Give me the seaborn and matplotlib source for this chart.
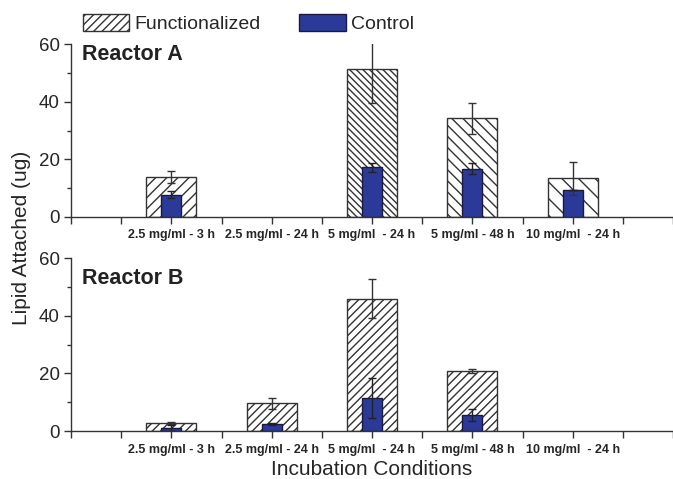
import numpy as np
import pandas as pd
import seaborn as sns
import matplotlib.pyplot as plt
from matplotlib.patches import Patch
from matplotlib.ticker import MultipleLocator

sns.set_style("ticks")
plt.rcParams['font.family'] = ['Liberation Sans', 'DejaVu Sans']
plt.rcParams['hatch.linewidth'] = 1.0

conditions = ["2.5 mg/ml - 3 h", "2.5 mg/ml - 24 h", "5 mg/ml  - 24 h",
              "5 mg/ml - 48 h", "10 mg/ml  - 24 h"]

# Reactor A
a_func = [13.9, np.nan, 51.4, 34.2, 13.4]
a_func_err = [2.2, np.nan, 12.0, 5.5, 5.8]
a_ctrl = [7.8, np.nan, 17.2, 16.8, 9.2]
a_ctrl_err = [1.2, np.nan, 1.5, 2.0, 0.0]
a_hatch = ['///', '', '\\\\\\\\\\', '\\\\\\', '\\\\']

# Reactor B
b_func = [2.9, 9.6, 45.9, 20.9, np.nan]
b_func_err = [0.3, 2.0, 6.8, 0.6, np.nan]
b_ctrl = [1.2, 2.4, 11.5, 5.7, np.nan]
b_ctrl_err = [1.0, 0.4, 7.0, 2.1, np.nan]
b_hatch = ['////', '////', '////', '////', '']

blue = '#2b3a98'
edge = '#333333'

fig = plt.figure(figsize=(6.73, 4.79), dpi=100)
ax_a = fig.add_axes([0.1055, 0.547, 0.8945, 0.361])
ax_b = fig.add_axes([0.1055, 0.100, 0.8945, 0.361])


def draw(ax, func, func_err, ctrl, ctrl_err, hatches, title, ty):
    df = pd.DataFrame({'cond': conditions, 'func': func, 'ctrl': ctrl})
    sns.barplot(data=df, x='cond', y='func', order=conditions, width=0.5,
                color='white', saturation=1, edgecolor=edge, linewidth=1,
                errorbar=None, ax=ax)
    # NaN bars are skipped, so match hatches by bar position
    for p in ax.patches:
        i = int(round(p.get_x() + p.get_width() / 2))
        p.set_hatch(hatches[i])
    sns.barplot(data=df, x='cond', y='ctrl', order=conditions, width=0.2,
                color=blue, saturation=1, edgecolor='#1a1a40', linewidth=1,
                errorbar=None, ax=ax)
    pos = np.arange(len(conditions))
    ax.errorbar(pos, func, yerr=func_err, fmt='none', ecolor=edge,
                elinewidth=1, capsize=3, capthick=1)
    ax.errorbar(pos, ctrl, yerr=ctrl_err, fmt='none', ecolor='#222222',
                elinewidth=1, capsize=3, capthick=1)
    ax.set_xlim(-1, 5)
    ax.set_ylim(0, 60)
    ax.yaxis.set_major_locator(MultipleLocator(20))
    ax.yaxis.set_minor_locator(MultipleLocator(10))
    ax.xaxis.set_minor_locator(MultipleLocator(0.5))
    ax.set_xticks(pos)
    ax.set_xticklabels(conditions, fontsize=9, fontweight='bold')
    ax.tick_params(axis='x', which='both', length=5, width=1, pad=4,
                   direction='out', color=edge)
    ax.tick_params(axis='y', which='major', length=5, width=1, pad=3,
                   labelsize=13.5, color=edge)
    ax.tick_params(axis='y', which='minor', length=3, width=1, color=edge)
    for s in ['top', 'right']:
        ax.spines[s].set_visible(False)
    for s in ['left', 'bottom']:
        ax.spines[s].set_color(edge)
        ax.spines[s].set_linewidth(1)
    ax.set_ylabel('')
    ax.set_xlabel('')
    ax.text(0.018, ty, title, transform=ax.transAxes, fontsize=15.5,
            fontweight='bold', va='top', ha='left', color='#222222')


draw(ax_a, a_func, a_func_err, a_ctrl, a_ctrl_err, a_hatch, 'Reactor A', 1.0)
draw(ax_b, b_func, b_func_err, b_ctrl, b_ctrl_err, b_hatch, 'Reactor B', 0.945)

ax_b.set_xlabel('Incubation Conditions', fontsize=15, labelpad=3)
fig.text(0.032, 0.504, 'Lipid Attached (ug)', rotation=90, fontsize=15,
         ha='center', va='center')

handles = [Patch(facecolor='white', edgecolor=edge, hatch='////', label='Functionalized'),
           Patch(facecolor=blue, edgecolor='#1a1a40', label='Control')]
fig.legend(handles=handles, loc='upper left', bbox_to_anchor=(0.097, 1.008),
           ncol=2, frameon=False, fontsize=14, handlelength=2.4,
           handleheight=1.0, handletextpad=0.25, columnspacing=2.0)

fig.savefig('out.png', dpi=100)
